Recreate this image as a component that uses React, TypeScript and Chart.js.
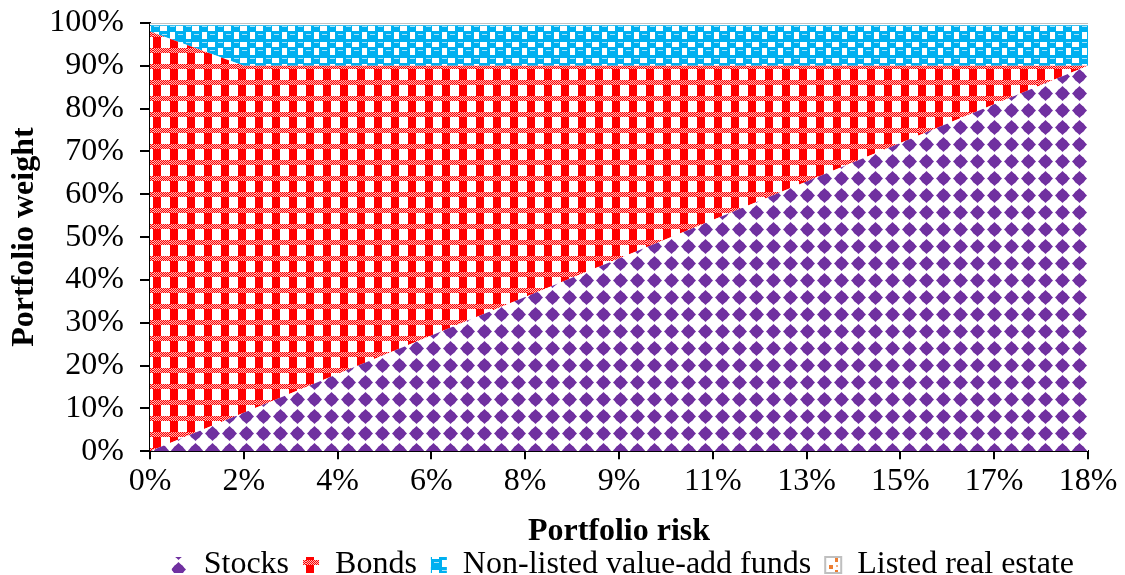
import React, { useEffect, useRef } from "react";
import { Chart, registerables } from "chart.js";

Chart.register(...registerables);

const riskLabels = ["0%", "2%", "4%", "6%", "8%", "9%", "11%", "13%", "15%", "17%", "18%"];
const stocks = [0, 9, 18, 27, 36, 45, 54, 63, 72, 81, 90];
const bonds = [98, 81, 72, 63, 54, 45, 36, 27, 18, 9, 0];
const nonListed = [1.5, 9.5, 9.5, 9.5, 9.5, 9.5, 9.5, 9.5, 9.5, 9.5, 9.5];
const listedRealEstate = [0.5, 0.5, 0.5, 0.5, 0.5, 0.5, 0.5, 0.5, 0.5, 0.5, 0.5];
const yTicks = [0, 10, 20, 30, 40, 50, 60, 70, 80, 90, 100];

const FONT = "'Liberation Serif', 'Times New Roman', serif";

function makeTile(w: number, h: number, draw: (c: CanvasRenderingContext2D) => void) {
  const cv = document.createElement("canvas");
  cv.width = w;
  cv.height = h;
  const c = cv.getContext("2d")!;
  c.fillStyle = "#ffffff";
  c.fillRect(0, 0, w, h);
  draw(c);
  return cv;
}

function stocksTile() {
  return makeTile(17, 17, (c) => {
    c.fillStyle = "#7030A0";
    c.beginPath();
    c.moveTo(8.5, 1);
    c.lineTo(16, 8.5);
    c.lineTo(8.5, 16);
    c.lineTo(1, 8.5);
    c.closePath();
    c.fill();
    c.beginPath();
    c.arc(8.5, 8.5, 5.6, 0, Math.PI * 2);
    c.fill();
  });
}

function bondsTile() {
  return makeTile(17, 16, (c) => {
    for (let y = 0; y < 5; y++) {
      for (let x = 0; x < 17; x++) {
        c.fillStyle = (x + y) % 2 === 0 ? "#FF0000" : "#FFB8B8";
        c.fillRect(x, y, 1, 1);
      }
    }
    c.fillStyle = "#FF0000";
    c.fillRect(0, 5, 8, 11);
  });
}

function nonListedTile() {
  return makeTile(16, 16, (c) => {
    c.fillStyle = "#00B0F0";
    const blob = (x: number, y: number) => {
      c.fillRect(x + 1, y, 9, 11);
      c.fillRect(x, y + 1, 11, 9);
    };
    blob(-1.5 | 0, -1);
    blob(15, -1);
    blob(-1, 15);
    blob(15, 15);
    blob(7, 7);
    c.fillStyle = "#A8E4FA";
    c.fillRect(2, 2, 5, 1);
    c.fillRect(10, 10, 5, 1);
  });
}

function listedTile() {
  return makeTile(12, 12, (c) => {
    c.fillStyle = "#ED7D31";
    c.fillRect(1, 1, 4, 4);
    c.fillRect(7, 6, 3, 4);
    c.fillStyle = "#F4B183";
    c.fillRect(8, 1, 2, 2);
  });
}

export default function App() {
  const ref = useRef<HTMLCanvasElement | null>(null);

  useEffect(() => {
    const canvas = ref.current!;
    const ctx = canvas.getContext("2d")!;
    const pStocks = ctx.createPattern(stocksTile(), "repeat")!;
    const pBonds = ctx.createPattern(bondsTile(), "repeat")!;
    const pNon = ctx.createPattern(nonListedTile(), "repeat")!;
    const pListed = ctx.createPattern(listedTile(), "repeat")!;

    const chart = new Chart(canvas, {
      type: "line",
      data: {
        labels: riskLabels,
        datasets: [
          {
            label: "Stocks",
            data: stocks,
            backgroundColor: pStocks,
            borderColor: "#7030A0",
            borderWidth: 0,
            fill: "origin",
            pointRadius: 0,
            tension: 0,
          },
          {
            label: "Bonds",
            data: bonds,
            backgroundColor: pBonds,
            borderColor: "#FF0000",
            borderWidth: 0,
            fill: "-1",
            pointRadius: 0,
            tension: 0,
          },
          {
            label: "Non-listed value-add funds",
            data: nonListed,
            backgroundColor: pNon,
            borderColor: "#00B0F0",
            borderWidth: 0,
            fill: "-1",
            pointRadius: 0,
            tension: 0,
          },
          {
            label: "Listed real estate",
            data: listedRealEstate,
            backgroundColor: pListed,
            borderColor: "#BFBFBF",
            borderWidth: 2,
            fill: "-1",
            pointRadius: 0,
            tension: 0,
          },
        ],
      },
      options: {
        animation: false,
        responsive: false,
        maintainAspectRatio: false,
        layout: { padding: { top: 23, right: 37, bottom: -16, left: 0 } },
        plugins: {
          tooltip: { enabled: false },
          legend: {
            position: "bottom",
            align: "end",
            labels: {
              font: { family: FONT, size: 32 },
              color: "#000000",
              boxWidth: 16,
              boxHeight: 16,
              padding: 14,
            },
          },
        },
        scales: {
          x: {
            type: "category",
            offset: false,
            border: { display: true, color: "#000000", width: 2 },
            grid: { display: true, drawOnChartArea: false, color: "#000000", lineWidth: 2, tickLength: 8 },
            ticks: {
              color: "#000000",
              font: { family: FONT, size: 32 },
              autoSkip: false,
              maxRotation: 0,
              padding: 3,
            },
            title: {
              display: true,
              text: "Portfolio risk",
              color: "#000000",
              font: { family: FONT, size: 32, weight: "bold" },
              padding: { top: 9, bottom: -16 },
            },
          },
          y: {
            stacked: true,
            min: 0,
            max: 100,
            afterFit: (scale: any) => {
              scale.width = 150;
              scale.paddingTop = 0;
              scale.paddingBottom = 0;
            },
            afterBuildTicks: (scale: any) => {
              scale.ticks = yTicks.map((v) => ({ value: v }));
            },
            border: { display: true, color: "#000000", width: 2 },
            grid: { display: true, drawOnChartArea: false, color: "#000000", lineWidth: 2, tickLength: 10 },
            ticks: {
              color: "#000000",
              font: { family: FONT, size: 32 },
              padding: 16,
              autoSkip: false,
              callback: (v: any) => v + "%",
            },
            title: {
              display: true,
              text: "Portfolio weight",
              color: "#000000",
              font: { family: FONT, size: 32, weight: "bold" },
              padding: { top: 6, bottom: 0 },
            },
          },
        },
      },
    });
    return () => chart.destroy();
  }, []);

  return (
    <div style={{ position: "fixed", left: 0, top: 0, width: 1125, height: 575, background: "#ffffff" }}>
      <canvas ref={ref} width={1125} height={575} style={{ width: 1125, height: 575 }} />
    </div>
  );
}
